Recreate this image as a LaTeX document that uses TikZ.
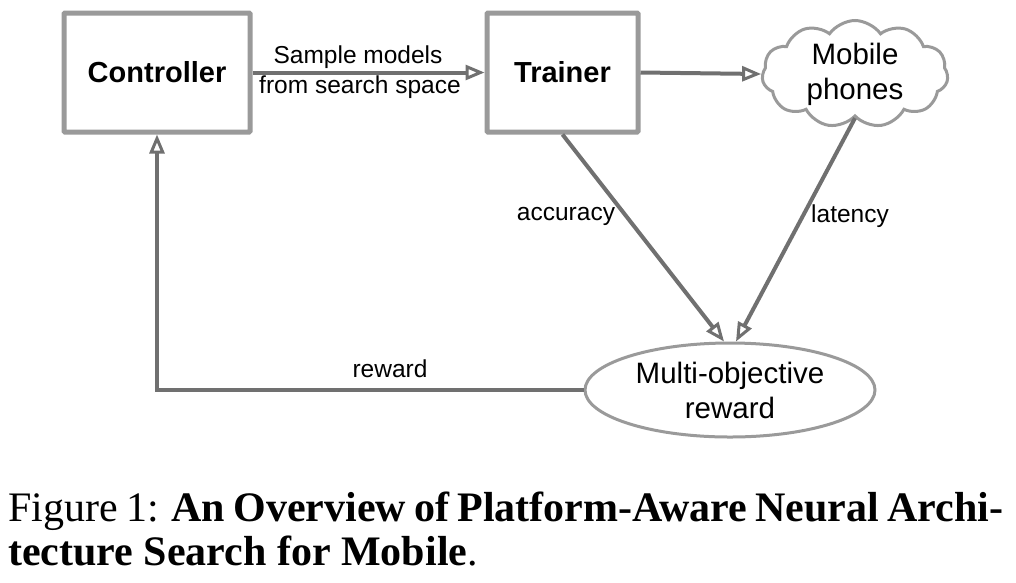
\documentclass[tikz,border=0pt]{standalone}
\usepackage{fontspec}
\setmainfont{Liberation Serif}
\setsansfont{Liberation Sans}
\usetikzlibrary{arrows.meta,shapes.geometric,shapes.symbols}
\definecolor{boxgray}{HTML}{9A9A9A}
\definecolor{arrgray}{HTML}{707070}
\begin{document}
\begin{tikzpicture}[x=1pt,y=-1pt,
  every node/.style={font=\sffamily},
  mainbox/.style={draw=boxgray, line width=5pt, fill=white, rounded corners=1pt, inner sep=0pt,
    font=\sffamily\bfseries\fontsize{29}{34}\selectfont},
  bubble/.style={draw=boxgray, line width=3pt, fill=white, inner sep=0pt, align=center,
    font=\sffamily\fontsize{29.5}{35}\selectfont},
  lbl/.style={font=\sffamily\fontsize{24.5}{30}\selectfont, inner sep=0pt, align=center},
  flow/.style={draw=arrgray, line width=4pt,
    -{Triangle[open, length=19pt, width=15pt, line width=3pt]}},
  captxt/.style={anchor=base west, inner sep=0pt, font=\rmfamily\fontsize{42}{44}\selectfont}
]
\useasboundingbox (0,0) rectangle (1016,582);
\node[mainbox, minimum width=186pt, minimum height=119pt] (ctrl) at (157,72.5) {Controller};
\node[mainbox, minimum width=151pt, minimum height=119pt] (trainer) at (562.5,72.5) {Trainer};
\node[bubble, cloud, cloud puffs=11, cloud puff arc=110, cloud ignores aspect,
  minimum width=186pt, minimum height=107pt] (phones) at (855,74) {Mobile\\phones};
\node[bubble, ellipse, minimum width=290pt, minimum height=94pt] (reward) at (730,390)
  {Multi-objective\\reward};

\draw[flow] (ctrl.east) -- (trainer.west);
\node[lbl] (lsample) at (358,57) {Sample models};
\node[lbl] (lfrom) at (360,87) {from search space};
\draw[flow] (trainer.east) -- (phones.west);
\draw[flow] (trainer.south) -- ([xshift=-6pt]reward.north);
\draw[flow] (phones.south) -- ([xshift=6pt]reward.north);
\node[lbl] (lacc) at (566,216) {accuracy};
\node[lbl] (llat) at (850,216) {latency};
\draw[flow] (reward.west) -| (ctrl.south);
\node[lbl] (lrew) at (390,369) {reward};

\node[captxt] (cap1) at (8,521)
  {\makebox[995pt][s]{Figure 1: \textbf{An Overview of Platform-Aware Neural Archi-}}};
\node[captxt] (cap2) at (8,565)
  {\textbf{tecture Search for Mobile}.};
\end{tikzpicture}
\end{document}
